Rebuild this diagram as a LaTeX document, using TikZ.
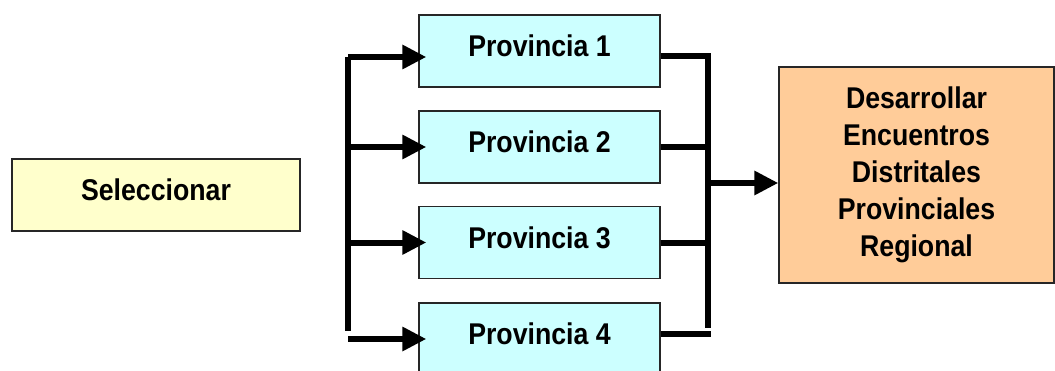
\documentclass[tikz,border=0pt]{standalone}
\usepackage{fontspec}
\setmainfont[FakeStretch=0.89]{Liberation Sans}
\usepackage{tikz}
\usetikzlibrary{arrows.meta}
\definecolor{selyellow}{HTML}{FFFFCC}
\definecolor{provcyan}{HTML}{CCFFFF}
\definecolor{goalorange}{HTML}{FFCC99}

\begin{document}
\begin{tikzpicture}[x=1pt,y=1pt,
  box/.style={draw=black!85,line width=1.3pt,inner sep=0pt,font=\fontsize{30}{37}\selectfont\bfseries},
  bar/.style={line width=6pt},
  flow/.style={line width=6pt,-{Triangle[length=24pt,width=23pt]}}]
  \useasboundingbox (0,0) rectangle (1055,370);
  \node[box,fill=selyellow,minimum width=288pt,minimum height=72pt,text depth=10pt] (sel) at (156,175) {Seleccionar};
  \foreach \i/\y in {1/319,2/223,3/127.5,4/31}{
    \node[box,fill=provcyan,minimum width=241pt,minimum height=72pt,text depth=10pt] (p\i) at (539.5,\y) {Provincia \i};
  }
  \node[box,fill=goalorange,minimum width=275pt,minimum height=216pt,align=center] (goal) at (916.5,195) {Desarrollar\\Encuentros\\Distritales\\Provinciales\\Regional};
  % left fork
  \coordinate (lt) at (348,313);
  \coordinate (lb) at (348,39);
  \draw[bar] (lt) -- (lb);
  \draw[flow,shorten >=-8pt] (lt) -- ([yshift=-6pt]p1.west);
  \foreach \i in {2,3,4}{
    \draw[flow,shorten >=-8pt] (lt |- p\i.west) -- (p\i.west);
  }
  % right join
  \coordinate (rt) at (708,314);
  \coordinate (rb) at (708,42);
  \coordinate (r4) at (711,36);
  \coordinate (gin) at ([yshift=-8pt]goal.west);
  \draw[bar] (rt) -- (rb);
  \draw[bar] ([yshift=-5pt]p1.east) -- ([xshift=3pt]rt);
  \draw[bar] (p2.east) -- (rt |- p2.east);
  \draw[bar] (p3.east) -- (rt |- p3.east);
  \draw[bar] (p4.east |- r4) -- (r4);
  \draw[flow] (rt |- gin) -- (gin);
\end{tikzpicture}
\end{document}
